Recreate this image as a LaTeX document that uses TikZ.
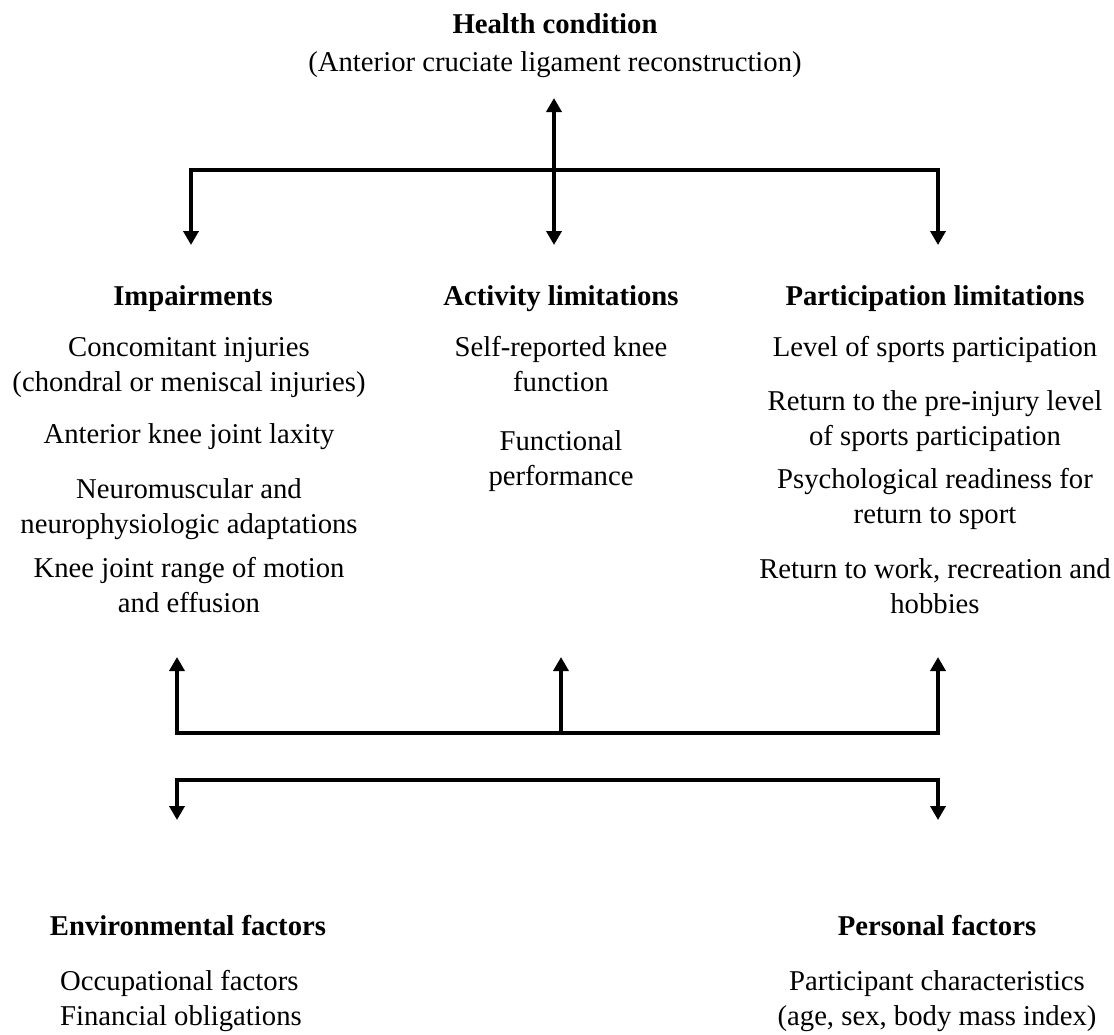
\documentclass[tikz,border=0pt]{standalone}
\usepackage{fontspec}
\setmainfont{Liberation Serif}
\usetikzlibrary{arrows.meta}
\begin{document}
\begin{tikzpicture}[x=1pt,y=-1pt,
  txt/.style={align=center,inner sep=0pt,anchor=base,font=\fontsize{28.7}{35}\selectfont},
  hdr/.style={txt,font=\fontsize{28.7}{35}\selectfont\bfseries},
  conn/.style={line width=3.6pt},
  arr/.style={conn,-{Triangle[width=15pt,length=14pt]}},
  darr/.style={conn,{Triangle[width=15pt,length=14pt]}-{Triangle[width=15pt,length=14pt]}}]
\useasboundingbox (0,0) rectangle (1114,1034);
% texts (anchor = baseline of the last line)
\node[hdr] (hc) at (555,33) {Health condition};
\node[txt] (hcs) at (555,71) {(Anterior cruciate ligament reconstruction)};
\node[hdr] (imp) at (193,305) {Impairments};
\node[hdr] (act) at (561,305) {Activity limitations};
\node[hdr] (par) at (935,305) {Participation limitations};
\node[txt] (i1) at (189,391) {Concomitant injuries\\(chondral or meniscal injuries)};
\node[txt] (i2) at (189,443) {Anterior knee joint laxity};
\node[txt] (i3) at (189,533) {Neuromuscular and\\neurophysiologic adaptations};
\node[txt] (i4) at (189,612) {Knee joint range of motion\\and effusion};
\node[txt] (a1) at (561,391) {Self-reported knee\\function};
\node[txt] (a2) at (561,485) {Functional\\performance};
\node[txt] (p1) at (935,356) {Level of sports participation};
\node[txt] (p2) at (935,445) {Return to the pre-injury level\\of sports participation};
\node[txt] (p3) at (935,523) {Psychological readiness for\\return to sport};
\node[txt] (p4) at (935,613) {Return to work, recreation and\\hobbies};
\node[hdr] (env) at (188,935) {Environmental factors};
\node[txt,align=left,anchor=base west] (e1) at (60,1025) {Occupational factors\\Financial obligations};
\node[hdr] (pers) at (937,935) {Personal factors};
\node[txt] (pe1) at (937,1025) {Participant characteristics\\(age, sex, body mass index)};
% junction coordinates
\coordinate (hT) at (554,98);
\coordinate (hB) at (554,245);
\coordinate (hL) at (191,170);
\coordinate (hR) at (938,170);
\coordinate (hLd) at (191,245);
\coordinate (hRd) at (938,245);
\coordinate (mL) at (177,733);
\coordinate (mM) at (561,733);
\coordinate (mR) at (938,733);
\coordinate (mLu) at (177,657);
\coordinate (mMu) at (561,657);
\coordinate (mRu) at (938,657);
\coordinate (bL) at (177,780);
\coordinate (bR) at (938,780);
\coordinate (bLd) at (177,820);
\coordinate (bRd) at (938,820);
% connectors
\draw[darr] (hT) -- (hB);
\draw[arr] (hR) -- (hL) -- (hLd);
\draw[arr] (hL) -- (hR) -- (hRd);
\draw[arr] (mR) -- (mL) -- (mLu);
\draw[arr] (mL) -- (mR) -- (mRu);
\draw[arr] (mM) -- (mMu);
\draw[arr] (bR) -- (bL) -- (bLd);
\draw[arr] (bL) -- (bR) -- (bRd);
\end{tikzpicture}
\end{document}
